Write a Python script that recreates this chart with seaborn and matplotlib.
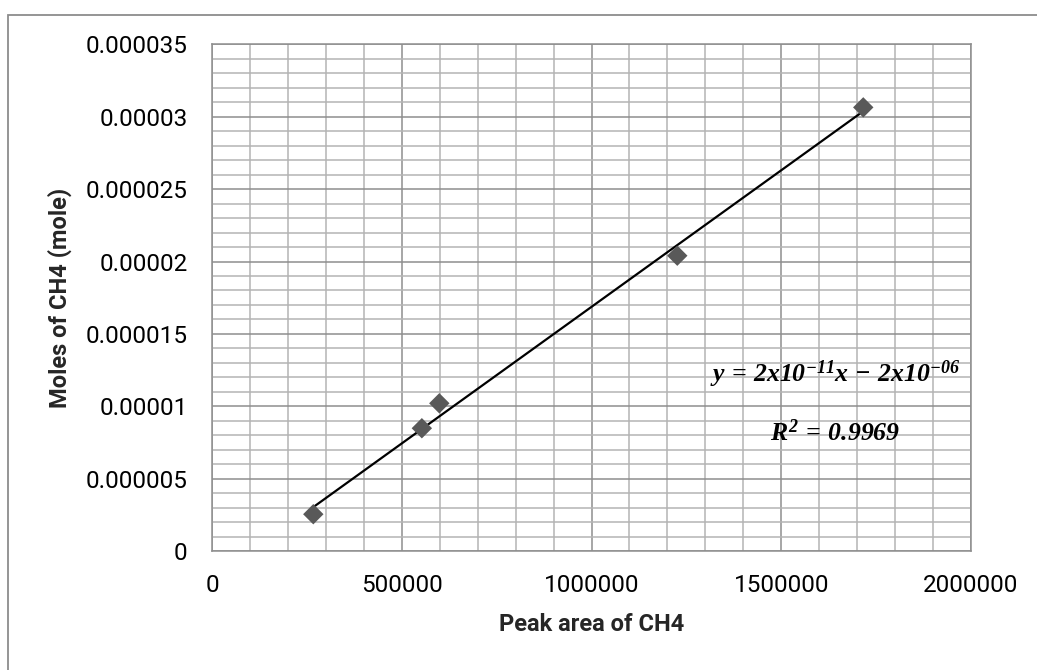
import numpy as np
import pandas as pd
import matplotlib
matplotlib.use("Agg")
import matplotlib.pyplot as plt
import matplotlib.patches as mpatches
from matplotlib.ticker import MultipleLocator, FixedLocator
import seaborn as sns

# Calibration data: GC peak area vs. moles of methane
peak_area = [267000, 553000, 599000, 1226000, 1716000]
moles_ch4 = [2.57e-6, 8.50e-6, 10.22e-6, 20.40e-6, 30.63e-6]

x_ticks = [0, 500000, 1000000, 1500000, 2000000]
x_tick_labels = ["0", "500000", "1000000", "1500000", "2000000"]
y_ticks = [0, 0.000005, 0.00001, 0.000015, 0.00002, 0.000025, 0.00003, 0.000035]
y_tick_labels = ["0", "0.000005", "0.00001", "0.000015", "0.00002",
                 "0.000025", "0.00003", "0.000035"]

equation_text = r"$y\,=\,2x10^{-11}x\,-\,2x10^{-06}$"
r2_text = r"$R^{2}\,=\,0.9969$"

df = pd.DataFrame({"area": peak_area, "moles": moles_ch4})

sns.set_theme(style="white")
plt.rcParams["font.family"] = ["Roboto", "DejaVu Sans"]
plt.rcParams["mathtext.fontset"] = "custom"
plt.rcParams["mathtext.rm"] = "Liberation Serif:bold:italic"
plt.rcParams["mathtext.it"] = "Liberation Serif:bold:italic"
plt.rcParams["mathtext.bf"] = "Liberation Serif:bold:italic"

fig = plt.figure(figsize=(10.37, 6.70), dpi=100)
ax = fig.add_axes([0.2044, 0.1769, 0.7320, 0.7574])

# outer chart-area frame
fig.patches.append(mpatches.Rectangle((0.0077, -0.2), 1.5, 0.9776 + 0.2,
                                      transform=fig.transFigure, fill=False,
                                      edgecolor="#8c8c8c", linewidth=1.3,
                                      zorder=0))

ax.set_xlim(0, 2000000)
ax.set_ylim(0, 0.000035)

# grid: major and minor lines
ax.xaxis.set_major_locator(FixedLocator(x_ticks))
ax.yaxis.set_major_locator(FixedLocator(y_ticks))
ax.xaxis.set_minor_locator(MultipleLocator(100000))
ax.yaxis.set_minor_locator(MultipleLocator(0.000001))
ax.grid(which="minor", color="#b4b4b4", linewidth=1.1, zorder=0)
ax.grid(which="major", color="#8e8e8e", linewidth=1.1, zorder=0)
ax.set_axisbelow(True)

ax.set_xticklabels(x_tick_labels)
ax.set_yticklabels(y_tick_labels)
ax.tick_params(which="major", axis="both", direction="out", length=6.5,
               width=1.1, color="#8e8e8e", labelsize=17.5, labelcolor="black")
ax.tick_params(axis="x", pad=10)
ax.tick_params(axis="y", pad=11)
ax.tick_params(which="minor", length=0)
for sp in ax.spines.values():
    sp.set_color("#8e8e8e")
    sp.set_linewidth(1.1)

# linear trendline from least squares fit
slope, intercept = np.polyfit(peak_area, moles_ch4, 1)
fit_x = [min(peak_area), max(peak_area)]
fit_df = pd.DataFrame({"area": fit_x,
                       "moles": [slope * v + intercept for v in fit_x]})
sns.lineplot(data=fit_df, x="area", y="moles", color="black",
             linewidth=1.6, ax=ax, zorder=3)

sns.scatterplot(data=df, x="area", y="moles", marker="D", s=108,
                color="#595959", edgecolor="none", ax=ax, zorder=4)

ax.set_xlabel("Peak area of CH4", fontsize=17, fontweight="bold",
              labelpad=11)
ax.set_ylabel("Moles of CH4 (mole)", fontsize=17, fontweight="bold",
              labelpad=10)

ax.text(1642000, 0.0000122, equation_text, fontsize=18.5, ha="center",
        va="center", color="black")
ax.text(1642000, 0.0000082, r2_text, fontsize=18.5, ha="center",
        va="center", color="black")

fig.savefig("out.png", dpi=100)
